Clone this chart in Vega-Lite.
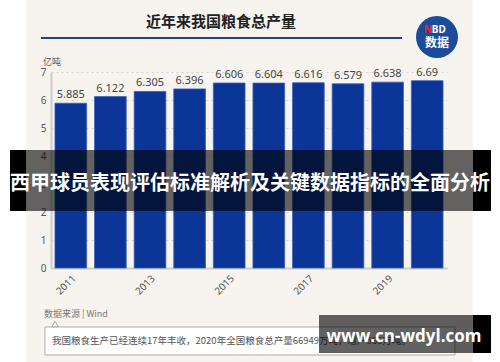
{
  "$schema": "https://vega.github.io/schema/vega-lite/v6.json",
  "width": 396,
  "height": 196,
  "autosize": {"type": "none"},
  "padding": {"left": 51, "top": 72, "right": 53, "bottom": 94},
  "background": "#f7f4ef",
  "config": {"view": {"stroke": null}, "font": "Noto Sans CJK SC"},
  "layer": [
    {
      "data": {"values": [
        {"year": 2011, "value": 5.885},
        {"year": 2012, "value": 6.122},
        {"year": 2013, "value": 6.305},
        {"year": 2014, "value": 6.396},
        {"year": 2015, "value": 6.606},
        {"year": 2016, "value": 6.604},
        {"year": 2017, "value": 6.616},
        {"year": 2018, "value": 6.579},
        {"year": 2019, "value": 6.638},
        {"year": 2020, "value": 6.69}
      ]},
      "encoding": {
        "x": {"field": "year", "type": "ordinal",
          "scale": {"paddingInner": 0.2, "paddingOuter": 0.1},
          "axis": {"title": null, "values": [2011, 2013, 2015, 2017, 2019], "labelAngle": -45, "labelFontSize": 10, "labelColor": "#555", "labelFont": "Noto Sans", "ticks": false, "domainColor": "#cccccc", "domainWidth": 2, "labelPadding": 5}},
        "y": {"field": "value", "type": "quantitative",
          "scale": {"domain": [0, 7], "nice": false},
          "axis": {"title": null, "values": [0, 1, 2, 3, 4, 5, 6, 7], "labelFontSize": 10, "labelColor": "#555", "labelFont": "Noto Sans", "ticks": false, "labelPadding": 5, "domainColor": "#cccccc", "domainWidth": 2, "gridColor": "#d4d4d4", "gridDash": [2, 3]}}
      },
      "layer": [
        {"mark": {"type": "bar", "color": "#0c3598", "stroke": "#3d5fb4", "strokeWidth": 0.8}},
        {"mark": {"type": "text", "dy": -8, "fontSize": 11, "color": "#444", "font": "Noto Sans"}, "encoding": {"text": {"field": "value", "type": "quantitative"}}}
      ]
    },
    {
      "data": {"values": [{"k": 1}]},
      "resolve": {"scale": {"x": "shared", "y": "shared"}},
      "layer": [
        {"mark": {"type": "rect", "color": "white"},
          "encoding": {
            "x": {"datum": 2009.212, "type": "quantitative", "scale": {"domain": [2010.5, 2020.5], "nice": false, "zero": false}, "axis": null},
            "x2": {"datum": 2009.881},
            "y": {"datum": 9.571, "type": "quantitative", "scale": {"domain": [0, 7], "nice": false, "zero": false}, "axis": null},
            "y2": {"datum": -3.357}}},
        {"mark": {"type": "rect", "color": "white"},
          "encoding": {
            "x": {"datum": 2021.149, "type": "quantitative"},
            "x2": {"datum": 2021.838},
            "y": {"datum": 9.571, "type": "quantitative"},
            "y2": {"datum": -3.357}}},
        {"data": {"values": [{"t": "近年来我国粮食总产量"}]},
          "mark": {"type": "text", "fontSize": 15, "fontWeight": "bold", "color": "#222", "align": "center", "baseline": "middle"},
          "encoding": {"x": {"datum": 2014.793, "type": "quantitative"}, "y": {"datum": 8.786, "type": "quantitative"}, "text": {"field": "t"}}},
        {"mark": {"type": "rule", "color": "#1f3f8f", "strokeWidth": 2},
          "encoding": {"x": {"datum": 2010.247, "type": "quantitative"}, "x2": {"datum": 2019.364}, "y": {"datum": 8.214, "type": "quantitative"}}},
        {"mark": {"type": "point", "shape": "circle", "filled": true, "size": 1764, "color": "#1b4b9b", "opacity": 1},
          "encoding": {"x": {"datum": 2020.247, "type": "quantitative"}, "y": {"datum": 8.25, "type": "quantitative"}}},
        {"data": {"values": [{"t": "N"}]},
          "mark": {"type": "text", "fontSize": 10, "fontWeight": "bold", "color": "#e8262c", "align": "right", "baseline": "middle", "font": "Noto Sans"},
          "encoding": {"x": {"datum": 2020.118, "type": "quantitative"}, "y": {"datum": 8.5, "type": "quantitative"}, "text": {"field": "t"}}},
        {"data": {"values": [{"t": "BD"}]},
          "mark": {"type": "text", "fontSize": 10, "fontWeight": "bold", "color": "white", "align": "left", "baseline": "middle", "font": "Noto Sans"},
          "encoding": {"x": {"datum": 2020.118, "type": "quantitative"}, "y": {"datum": 8.5, "type": "quantitative"}, "text": {"field": "t"}}},
        {"data": {"values": [{"t": "数据"}]},
          "mark": {"type": "text", "fontSize": 12, "fontWeight": "bold", "color": "white", "align": "center", "baseline": "middle"},
          "encoding": {"x": {"datum": 2020.247, "type": "quantitative"}, "y": {"datum": 8.036, "type": "quantitative"}, "text": {"field": "t"}}},
        {"data": {"values": [{"t": "亿吨"}]},
          "mark": {"type": "text", "fontSize": 9, "color": "#555", "align": "left", "baseline": "middle"},
          "encoding": {"x": {"datum": 2010.298, "type": "quantitative"}, "y": {"datum": 7.357, "type": "quantitative"}, "text": {"field": "t"}}},
        {"data": {"values": [{"t": "数据来源 | Wind"}]},
          "mark": {"type": "text", "fontSize": 9, "color": "#777", "align": "left", "baseline": "middle"},
          "encoding": {"x": {"datum": 2010.323, "type": "quantitative"}, "y": {"datum": -1.643, "type": "quantitative"}, "text": {"field": "t"}}},
        {"mark": {"type": "rect", "fill": "white", "stroke": "#aaaaaa", "strokeWidth": 1},
          "encoding": {"x": {"datum": 2010.348, "type": "quantitative"}, "x2": {"datum": 2020.702}, "y": {"datum": -2.107, "type": "quantitative"}, "y2": {"datum": -3.107}}},
        {"mark": {"type": "point", "shape": "triangle-up", "filled": true, "size": 40, "fill": "white", "stroke": "#aaaaaa", "strokeWidth": 1, "opacity": 1},
          "encoding": {"x": {"datum": 2010.601, "type": "quantitative"}, "y": {"datum": -2.0, "type": "quantitative"}}},
        {"data": {"values": [{"t": "我国粮食生产已经连续17年丰收，2020年全国粮食总产量66949万吨，增产565万吨。"}]},
          "mark": {"type": "text", "fontSize": 9.5, "color": "#555", "align": "left", "baseline": "middle"},
          "encoding": {"x": {"datum": 2010.525, "type": "quantitative"}, "y": {"datum": -2.607, "type": "quantitative"}, "text": {"field": "t"}}},
        {"mark": {"type": "rect", "color": "black", "opacity": 0.6},
          "encoding": {"x": {"datum": 2009.881, "type": "quantitative"}, "x2": {"datum": 2021.149}, "y": {"datum": 4.214, "type": "quantitative"}, "y2": {"datum": 2.036}}},
        {"mark": {"type": "rect", "color": "black", "opacity": 1},
          "encoding": {"x": {"datum": 2009.465, "type": "quantitative"}, "x2": {"datum": 2009.881}, "y": {"datum": 4.214, "type": "quantitative"}, "y2": {"datum": 2.036}}},
        {"mark": {"type": "rect", "color": "black", "opacity": 1},
          "encoding": {"x": {"datum": 2021.149, "type": "quantitative"}, "x2": {"datum": 2021.611}, "y": {"datum": 4.214, "type": "quantitative"}, "y2": {"datum": 2.036}}},
        {"data": {"values": [{"t": "西甲球员表现评估标准解析及关键数据指标的全面分析"}]},
          "mark": {"type": "text", "fontSize": 20, "fontWeight": "bold", "color": "white", "align": "center", "baseline": "middle"},
          "encoding": {"x": {"datum": 2015.525, "type": "quantitative"}, "y": {"datum": 3.0, "type": "quantitative"}, "text": {"field": "t"}}},
        {"mark": {"type": "rect", "color": "black", "opacity": 0.62},
          "encoding": {"x": {"datum": 2017.268, "type": "quantitative"}, "x2": {"datum": 2021.149}, "y": {"datum": -1.679, "type": "quantitative"}, "y2": {"datum": -3.036}}},
        {"mark": {"type": "rect", "color": "black", "opacity": 1},
          "encoding": {"x": {"datum": 2021.149, "type": "quantitative"}, "x2": {"datum": 2021.611}, "y": {"datum": -1.679, "type": "quantitative"}, "y2": {"datum": -3.036}}},
        {"data": {"values": [{"t": "www.cn-wdyl.com"}]},
          "mark": {"type": "text", "fontSize": 17, "fontWeight": "bold", "color": "white", "align": "center", "baseline": "middle", "font": "Open Sans"},
          "encoding": {"x": {"datum": 2019.414, "type": "quantitative"}, "y": {"datum": -2.464, "type": "quantitative"}, "text": {"field": "t"}}}
      ]
    }
  ],
  "resolve": {"scale": {"x": "independent", "y": "independent"}}
}
